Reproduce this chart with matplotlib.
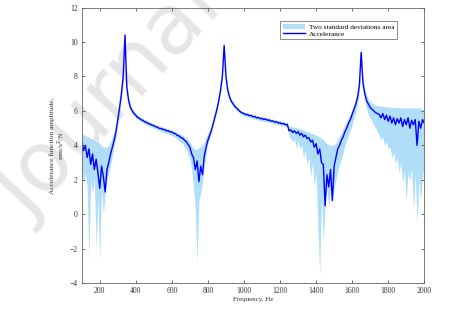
import numpy as np
import matplotlib
matplotlib.use('Agg')
import matplotlib.pyplot as plt

# frequency grid, Hz (one reading every 10 Hz)
freq = np.arange(100, 2001, 10)

# accelerance amplitude
acc = [4.2, 3.7, 4.0, 3.3, 3.8, 2.9, 3.5, 2.6, 3.2, 2.4,
       1.5, 2.8, 2.2, 1.3, 2.6, 3.0, 3.5, 3.9, 4.3, 4.8,
       5.5, 6.2, 7.0, 8.0, 10.4, 7.4, 6.6, 6.2, 6.0, 5.85,
       5.75, 5.62, 5.58, 5.48, 5.45, 5.36, 5.34, 5.26, 5.24, 5.17,
       5.15, 5.08, 5.06, 4.99, 4.98, 4.93, 4.92, 4.85, 4.85, 4.78,
       4.78, 4.7, 4.68, 4.58, 4.55, 4.45, 4.42, 4.3, 4.22, 4.05,
       3.9, 3.5, 3.3, 2.6, 3.1, 1.9, 2.8, 2.3, 3.4, 3.9,
       4.3, 4.6, 4.9, 5.3, 5.7, 6.1, 6.6, 7.2, 8.0, 9.8,
       8.0, 7.2, 6.8, 6.55, 6.4, 6.25, 6.15, 6.05, 5.95, 5.88,
       5.85, 5.78, 5.8, 5.72, 5.74, 5.66, 5.68, 5.6, 5.62, 5.55,
       5.57, 5.5, 5.54, 5.46, 5.48, 5.4, 5.43, 5.35, 5.38, 5.3,
       5.32, 5.25, 5.28, 5.2, 5.22, 4.85, 4.9, 4.75, 4.85, 4.7,
       4.8, 4.6, 4.7, 4.5, 4.6, 4.4, 4.45, 4.2, 4.3, 3.9,
       4.1, 3.5, 3.8, 3.0, 2.9, 0.5, 2.3, 1.6, 2.6, 0.8,
       2.8, 3.3, 3.8, 4.0, 4.3, 4.5, 4.8, 5.0, 5.3, 5.5,
       5.8, 6.1, 6.4, 6.8, 7.5, 9.4, 7.6, 7.0, 6.6, 6.4,
       6.2, 6.1, 6.0, 5.9, 5.85, 5.8, 5.6, 5.85, 5.5, 5.75,
       5.4, 5.7, 5.3, 5.6, 5.2, 5.55, 5.3, 5.6, 5.1, 5.5,
       5.2, 5.6, 5.0, 5.45, 5.2, 5.5, 4.0, 5.4, 5.0, 5.5,
       5.3]

# two standard deviations band: lower / upper edges
lower = [2.6, 1.8, 2.4, 1.6, -2.6, 2.0, 1.2, 2.2, -2.0, 1.0,
         -2.6, 1.5, 0.0, 1.2, 2.0, 2.4, 2.9, 3.4, 4.0, 4.5,
         5.2, 5.9, 6.6, 7.7, 10.2, 7.3, 6.45, 6.05, 5.85, 5.7,
         5.62, 5.5, 5.45, 5.36, 5.32, 5.24, 5.2, 5.13, 5.1, 5.04,
         5.0, 4.95, 4.9, 4.85, 4.82, 4.78, 4.75, 4.7, 4.68, 4.62,
         4.6, 4.5, 4.45, 4.35, 4.3, 4.15, 4.1, 3.9, 3.75, 3.5,
         3.2, 2.6, 1.6, 0.2, -2.8, 0.8, 1.2, 1.9, 2.8, 3.5,
         4.1, 4.4, 4.75, 5.15, 5.55, 5.95, 6.45, 7.05, 7.85, 9.6,
         7.85, 7.05, 6.65, 6.42, 6.28, 6.13, 6.03, 5.94, 5.84, 5.77,
         5.73, 5.67, 5.67, 5.6, 5.61, 5.54, 5.55, 5.48, 5.49, 5.43,
         5.44, 5.38, 5.41, 5.34, 5.35, 5.28, 5.3, 5.23, 5.25, 5.18,
         5.19, 5.12, 5.15, 5.07, 5.08, 4.5, 4.4, 4.2, 4.4, 3.8,
         4.3, 3.8, 4.0, 3.3, 3.7, 2.9, 3.3, 2.2, 3.0, 1.6,
         2.4, -0.8, -3.5, 1.2, -1.6, 0.8, 1.4, 0.4, 1.6, 0.9,
         1.5, 2.0, 2.5, 2.9, 3.2, 3.6, 4.0, 4.3, 4.6, 4.9,
         5.2, 5.6, 5.9, 6.4, 7.1, 9.2, 7.3, 6.6, 6.1, 5.8,
         5.6, 5.4, 5.2, 5.0, 4.8, 4.6, 4.3, 4.5, 4.0, 4.2,
         3.8, 3.9, 3.3, 3.6, 2.9, 3.3, 2.4, 3.0, 1.8, 2.6,
         0.8, 2.4, 2.0, 2.6, 0.2, 2.3, -0.5, 2.0, 0.8, 2.2,
         2.8]

upper = [4.7, 4.6, 4.6, 4.5, 4.5, 4.4, 4.4, 4.3, 4.2, 4.2,
         4.1, 4.0, 3.9, 3.9, 3.9, 4.0, 4.2, 4.5, 4.8, 5.2,
         5.8, 6.5, 7.3, 8.3, 10.6, 7.7, 6.8, 6.4, 6.15, 6.0,
         5.87, 5.75, 5.7, 5.6, 5.57, 5.49, 5.46, 5.39, 5.36, 5.3,
         5.27, 5.21, 5.18, 5.12, 5.1, 5.06, 5.04, 4.98, 4.97, 4.92,
         4.9, 4.84, 4.81, 4.74, 4.7, 4.63, 4.58, 4.5, 4.42, 4.3,
         4.2, 4.0, 3.85, 3.75, 3.8, 3.85, 3.95, 4.05, 4.2, 4.5,
         4.7, 4.9, 5.1, 5.5, 5.9, 6.3, 6.8, 7.4, 8.2, 10.0,
         8.2, 7.4, 6.95, 6.7, 6.52, 6.37, 6.27, 6.16, 6.06, 5.99,
         5.96, 5.9, 5.9, 5.84, 5.84, 5.78, 5.78, 5.72, 5.72, 5.66,
         5.67, 5.62, 5.63, 5.58, 5.58, 5.52, 5.52, 5.47, 5.47, 5.42,
         5.42, 5.37, 5.37, 5.32, 5.32, 5.1, 5.12, 5.05, 5.08, 5.0,
         5.02, 4.95, 4.95, 4.88, 4.85, 4.8, 4.78, 4.72, 4.68, 4.62,
         4.6, 4.52, 4.48, 4.4, 4.35, 4.2, 4.1, 4.05, 4.0, 4.0,
         4.05, 4.15, 4.35, 4.55, 4.75, 5.0, 5.2, 5.4, 5.65, 5.85,
         6.1, 6.4, 6.7, 7.1, 7.8, 9.6, 7.9, 7.3, 6.9, 6.7,
         6.55, 6.45, 6.4, 6.35, 6.3, 6.3, 6.28, 6.26, 6.25, 6.25,
         6.25, 6.22, 6.2, 6.2, 6.2, 6.18, 6.2, 6.18, 6.15, 6.2,
         6.2, 6.18, 6.2, 6.15, 6.2, 6.18, 6.15, 6.2, 6.15, 6.12,
         6.1]

plt.rcParams['font.family'] = ['Liberation Serif', 'DejaVu Serif']

fig = plt.figure(figsize=(4.74, 3.13), dpi=100, facecolor='white')
ax = fig.add_axes([0.1724, 0.0949, 0.7227, 0.881])
ax.set_facecolor('none')

# watermark behind the plot
fig.text(0.06, 0.29, 'Journal Pre-proof', fontsize=60, color='#e6e6e6',
         family='DejaVu Sans', rotation=47, rotation_mode='anchor',
         ha='left', va='baseline', zorder=-5)

ax.fill_between(freq, lower, upper, color='#b0def8', linewidth=0,
                label='Two standard deviations area')
ax.plot(freq, acc, color='#0000ff', linewidth=1.0, label='Accelerance')

ax.set_xlim(100, 2000)
ax.set_ylim(-4, 12)
ax.set_xticks(range(200, 2001, 200))
ax.set_yticks(range(-4, 13, 2))
ax.tick_params(direction='in', length=2.5, width=0.6, top=True, right=True,
               labelsize=5.5, labelcolor='#333333', color='#555555', pad=3)
for s in ax.spines.values():
    s.set_linewidth(0.6)
    s.set_color('#666666')

ax.set_xlabel('Frequency, Hz', fontsize=5, color='#333333', labelpad=1)
ax.set_ylabel('Accelerance function amplitude,\nmm/s$^2$/N', fontsize=5.3,
              color='#333333', labelpad=1.5, linespacing=1.1)

leg = ax.legend(loc='upper right', bbox_to_anchor=(0.92, 0.951), fontsize=5.2,
                frameon=True, fancybox=False, edgecolor='#555555',
                handlelength=3.0, borderpad=0.35, labelspacing=0.15,
                handletextpad=0.6, borderaxespad=0)
leg.get_frame().set_linewidth(0.6)

fig.savefig('out.png', dpi=100)
